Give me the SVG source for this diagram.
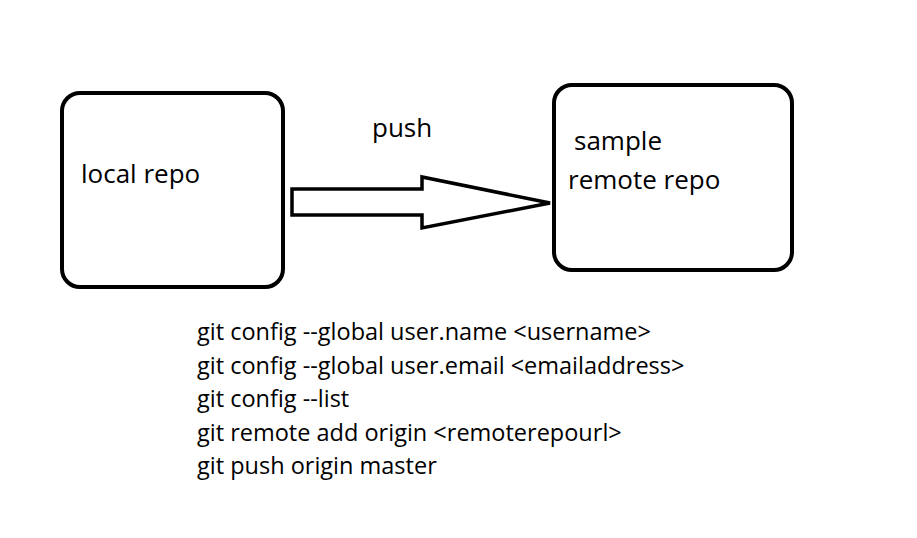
<svg xmlns="http://www.w3.org/2000/svg" width="917" height="538" viewBox="0 0 917 538">
<style>
.box{fill:#fff;stroke:#000;stroke-width:4}
.arrow{fill:#fff;stroke:#000;stroke-width:3.5;stroke-linejoin:miter}
text{font-family:"Open Sans","Liberation Sans",sans-serif;font-size:26px;fill:#000}
.cmd{font-size:23.5px}
</style>
<rect width="917" height="538" fill="#fff"/>
<g id="local-repo">
<rect class="box" x="62" y="93" width="221" height="194" rx="18"/>
<text x="81" y="183">local repo</text>
</g>
<g id="remote-repo">
<rect class="box" x="554" y="85" width="238" height="185" rx="18"/>
<text x="574" y="150">sample</text>
<text x="568" y="189">remote repo</text>
</g>
<g id="connectors">
<polygon class="arrow" points="292,189 422,189 422,177 550,203 422,228 422,215 292,215"/>
<text x="372" y="137">push</text>
</g>
<g id="commands">
<text class="cmd" x="197" y="340">git config --global user.name &lt;username&gt;</text>
<text class="cmd" x="197" y="374">git config --global user.email &lt;emailaddress&gt;</text>
<text class="cmd" x="197" y="407">git config --list</text>
<text class="cmd" x="197" y="441">git remote add origin &lt;remoterepourl&gt;</text>
<text class="cmd" x="197" y="474">git push origin master</text>
</g>
</svg>
